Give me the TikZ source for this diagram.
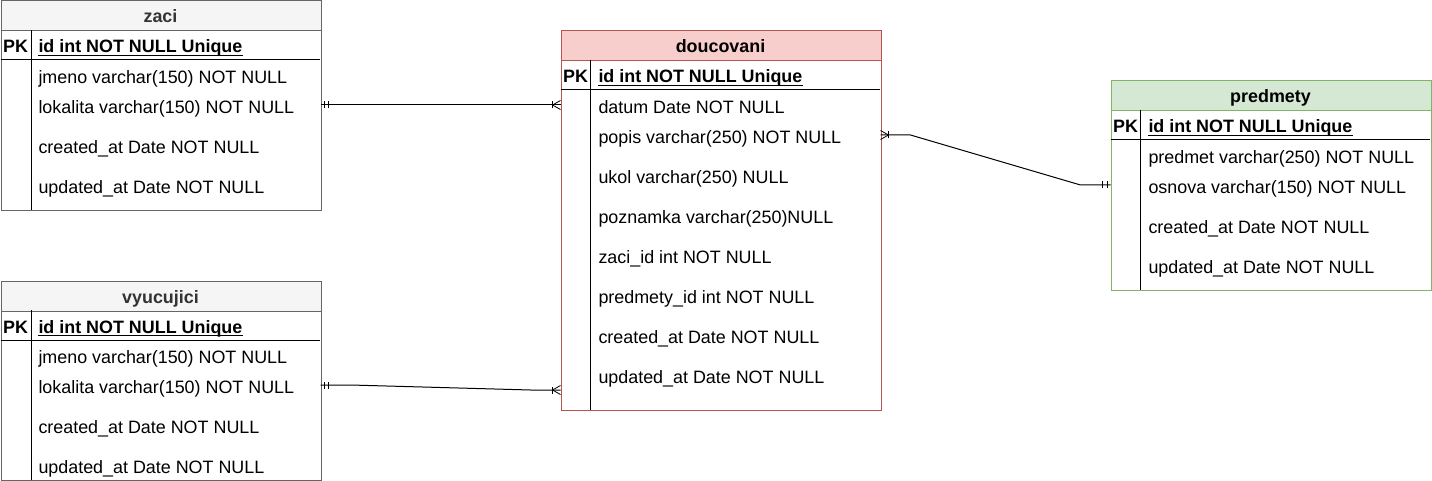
\documentclass[tikz,border=0pt]{standalone}
\usepackage{fontspec}
\setmainfont{Liberation Sans}
\usetikzlibrary{decorations.markings}
\definecolor{grayfill}{HTML}{F5F5F5}
\definecolor{graystroke}{HTML}{666666}
\definecolor{graytext}{HTML}{333333}
\definecolor{redfill}{HTML}{F8CECC}
\definecolor{redstroke}{HTML}{B85450}
\definecolor{greenfill}{HTML}{D5E8D4}
\definecolor{greenstroke}{HTML}{82B366}
\newcommand{\tblfont}{\fontsize{17.9}{20}\selectfont}
\tikzset{
  every path/.style={line width=1pt},
  hdr/.style={anchor=north west, minimum width=320pt, minimum height=30pt, inner sep=0pt, line width=1pt},
  hdrtext/.style={anchor=base, inner sep=0pt, font=\bfseries\tblfont},
  tblbody/.style={anchor=north west, minimum width=320pt, inner sep=0pt, line width=1pt},
  row/.style={anchor=base west, inner sep=0pt, font=\tblfont},
  pkrow/.style={anchor=base west, inner sep=0pt, font=\bfseries\tblfont},
  pk/.style={anchor=base, inner sep=0pt, font=\bfseries\tblfont},
  uline/.style={line width=1.3pt},
  conn/.style={draw=black, line width=1pt},
  mandstart/.style={postaction={decorate, decoration={markings,
      mark=at position 3.5pt with {\draw[line width=1pt] (0pt,-3.5pt) -- (0pt,3.5pt);},
      mark=at position 8pt with {\draw[line width=1pt] (0pt,-3.5pt) -- (0pt,3.5pt);}}}},
  mandend/.style={postaction={decorate, decoration={markings,
      mark=at position -3.5pt with {\draw[line width=1pt] (0pt,-3.5pt) -- (0pt,3.5pt);},
      mark=at position -8pt with {\draw[line width=1pt] (0pt,-3.5pt) -- (0pt,3.5pt);}}}},
  crowend/.style={postaction={decorate, decoration={markings,
      mark=at position -8pt with {\draw[line width=1pt] (0pt,-3.5pt) -- (0pt,3.5pt);
        \draw[line width=0.8pt] (0pt,0pt) -- (8pt,4.5pt) (0pt,0pt) -- (8pt,-4.5pt);}}}},
  crowstart/.style={postaction={decorate, decoration={markings,
      mark=at position 8pt with {\draw[line width=1pt] (0pt,-3.5pt) -- (0pt,3.5pt);
        \draw[line width=0.8pt] (0pt,0pt) -- (-8pt,4.5pt) (0pt,0pt) -- (-8pt,-4.5pt);}}}},
}
\begin{document}
\begin{tikzpicture}[x=1pt,y=-1pt]
\useasboundingbox (0,0) rectangle (1432,481);

% ---------- zaci ----------
\node[tblbody, draw=graystroke, minimum height=180pt] (zacib) at (0.5,30) {};
\node[hdr, fill=grayfill, draw=graystroke] (zaci) at (0.5,0.5) {};
\node[hdrtext, text=graytext] (zacit) at (160.5,23) {zaci};
\draw (0.5,60) -- (320,60);
\draw (31,30) -- (31,210);
\node[pk] (zacipk) at (15.5,53) {PK};
\node[pkrow] (zaci1) at (38,53) {id int NOT NULL Unique};
\draw[uline] ([yshift=-2.3pt]zaci1.base west) -- ([yshift=-2.3pt]zaci1.base east);
\node[row] (zaci2) at (38,83.3) {jmeno varchar(150) NOT NULL};
\node[row] (zaci3) at (38,113.3) {lokalita varchar(150) NOT NULL};
\node[row] (zaci4) at (38,153.3) {created\_at Date NOT NULL};
\node[row] (zaci5) at (38,193.3) {updated\_at Date NOT NULL};

% ---------- vyucujici ----------
\node[tblbody, draw=graystroke, minimum height=170pt] (vyub) at (0.5,310) {};
\node[hdr, fill=grayfill, draw=graystroke] (vyu) at (0.5,280.5) {};
\node[hdrtext, text=graytext] (vyut) at (160.5,303) {vyucujici};
\draw (0.5,340) -- (320,340);
\draw (31,310) -- (31,480);
\node[pk] (vyupk) at (15.5,333) {PK};
\node[pkrow] (vyu1) at (38,333) {id int NOT NULL Unique};
\draw[uline] ([yshift=-2.3pt]vyu1.base west) -- ([yshift=-2.3pt]vyu1.base east);
\node[row] (vyu2) at (38,363.3) {jmeno varchar(150) NOT NULL};
\node[row] (vyu3) at (38,393.3) {lokalita varchar(150) NOT NULL};
\node[row] (vyu4) at (38,433.3) {created\_at Date NOT NULL};
\node[row] (vyu5) at (38,473.3) {updated\_at Date NOT NULL};

% ---------- doucovani ----------
\node[tblbody, draw=redstroke, minimum height=350pt] (doub) at (560.5,60) {};
\node[hdr, fill=redfill, draw=redstroke] (dou) at (560.5,30.5) {};
\node[hdrtext] (dout) at (720.5,53) {doucovani};
\draw (560.5,90) -- (880,90);
\draw (590,60) -- (590,409.5);
\node[pk] (doupk) at (575.5,83) {PK};
\node[pkrow] (dou1) at (598,83) {id int NOT NULL Unique};
\draw[uline] ([yshift=-2.3pt]dou1.base west) -- ([yshift=-2.3pt]dou1.base east);
\node[row] (dou2) at (598,113.3) {datum Date NOT NULL};
\node[row] (dou3) at (598,143.3) {popis varchar(250) NOT NULL};
\node[row] (dou4) at (598,183.3) {ukol varchar(250) NULL};
\node[row] (dou5) at (598,223.3) {poznamka varchar(250)NULL};
\node[row] (dou6) at (598,263.3) {zaci\_id int NOT NULL};
\node[row] (dou7) at (598,303.3) {predmety\_id int NOT NULL};
\node[row] (dou8) at (598,343.3) {created\_at Date NOT NULL};
\node[row] (dou9) at (598,383.3) {updated\_at Date NOT NULL};

% ---------- predmety ----------
\node[tblbody, draw=greenstroke, minimum height=180pt] (preb) at (1110.5,110) {};
\node[hdr, fill=greenfill, draw=greenstroke] (pre) at (1110.5,80.5) {};
\node[hdrtext] (pret) at (1270.5,103) {predmety};
\draw (1110.5,140) -- (1430,140);
\draw (1140,110) -- (1140,290);
\node[pk] (prepk) at (1125.5,133) {PK};
\node[pkrow] (pre1) at (1148,133) {id int NOT NULL Unique};
\draw[uline] ([yshift=-2.3pt]pre1.base west) -- ([yshift=-2.3pt]pre1.base east);
\node[row] (pre2) at (1148,163.3) {predmet varchar(250) NOT NULL};
\node[row] (pre3) at (1148,193.3) {osnova varchar(150) NOT NULL};
\node[row] (pre4) at (1148,233.3) {created\_at Date NOT NULL};
\node[row] (pre5) at (1148,273.3) {updated\_at Date NOT NULL};

% ---------- connector end points ----------
\coordinate (zaciR) at (320.5,105);
\coordinate (douZ) at (560.5,105);
\coordinate (vyuR) at (320.5,385);
\coordinate (douV) at (560.5,390);
\coordinate (douR) at (880.5,135);
\coordinate (preL) at (1110.5,185);

% ---------- connectors ----------
\draw[conn, mandstart, crowend] (zaciR) -- (douZ);
\draw[conn, mandstart, crowend] (vyuR) -- ++(30,0) -- ([xshift=-30pt]douV) -- (douV);
\draw[conn, crowstart, mandend] (douR) -- ++(30,0) -- ([xshift=-30pt]preL) -- (preL);
\end{tikzpicture}
\end{document}
